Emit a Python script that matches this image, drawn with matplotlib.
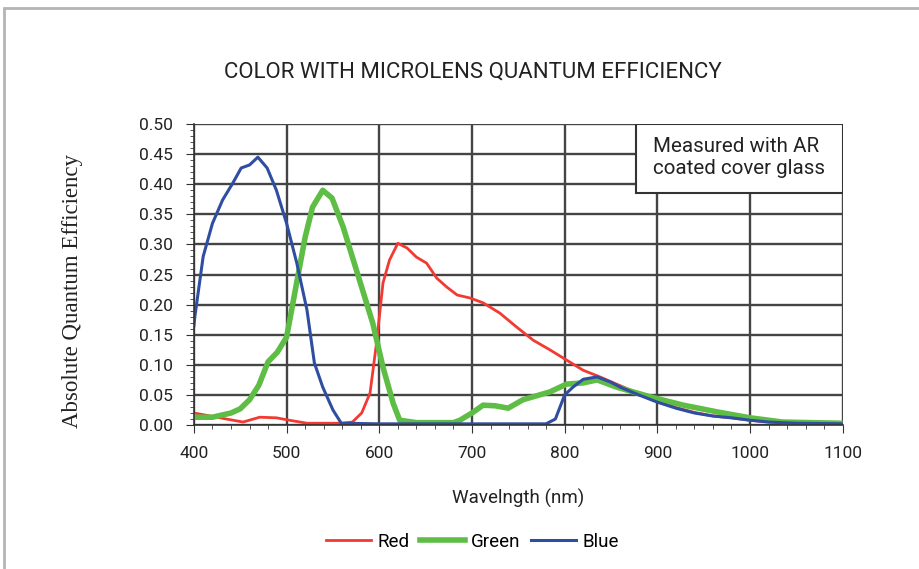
import matplotlib
matplotlib.use('Agg')
from matplotlib import pyplot as plt
from matplotlib.patches import Rectangle
from matplotlib.ticker import MultipleLocator

# values
red_nm = [400, 428, 453, 471, 489, 503, 522, 560, 571, 581, 590, 597, 604,
          611, 620, 630, 640, 651, 662, 673, 684, 698, 712, 730, 748, 766,
          784, 802, 820, 838, 856, 880, 900, 920, 940, 960, 980, 1000, 1020,
          1050, 1100]
red_qe = [0.020, 0.012, 0.005, 0.013, 0.012, 0.008, 0.003, 0.003, 0.005,
          0.020, 0.053, 0.136, 0.236, 0.274, 0.302, 0.294, 0.279, 0.269,
          0.244, 0.229, 0.216, 0.211, 0.203, 0.186, 0.163, 0.141, 0.125,
          0.108, 0.091, 0.080, 0.068, 0.052, 0.040, 0.029, 0.021, 0.015,
          0.012, 0.008, 0.005, 0.003, 0.002]

green_nm = [400, 420, 440, 450, 460, 470, 480, 490, 500, 509, 520, 528, 539,
            549, 561, 571, 582, 593, 604, 615, 622, 640, 680, 687, 700, 712,
            725, 739, 755, 784, 802, 820, 835, 856, 892, 928, 964, 1000, 1035,
            1097]
green_qe = [0.013, 0.013, 0.020, 0.027, 0.042, 0.066, 0.105, 0.121, 0.146,
            0.221, 0.312, 0.362, 0.390, 0.377, 0.329, 0.279, 0.224, 0.169,
            0.096, 0.036, 0.008, 0.004, 0.004, 0.008, 0.020, 0.033, 0.032,
            0.028, 0.042, 0.055, 0.068, 0.070, 0.075, 0.063, 0.047, 0.033,
            0.022, 0.012, 0.005, 0.003]

blue_nm = [400, 401, 410, 420, 431, 442, 451, 460, 469, 479, 489, 500, 511,
           522, 530, 539, 550, 559, 600, 700, 780, 790, 800, 809, 820, 835,
           850, 860, 880, 900, 920, 940, 960, 980, 1000, 1020, 1050, 1100]
blue_qe = [0.165, 0.180, 0.280, 0.335, 0.374, 0.402, 0.427, 0.432, 0.445,
           0.427, 0.390, 0.335, 0.269, 0.191, 0.103, 0.063, 0.025, 0.003,
           0.002, 0.002, 0.002, 0.010, 0.050, 0.063, 0.076, 0.080, 0.071,
           0.063, 0.050, 0.038, 0.028, 0.020, 0.015, 0.012, 0.008, 0.005,
           0.003, 0.002]

x_ticks = [400, 500, 600, 700, 800, 900, 1000, 1100]
y_ticks = [0.00, 0.05, 0.10, 0.15, 0.20, 0.25, 0.30, 0.35, 0.40, 0.45, 0.50]

plt.rcParams['font.family'] = ['Roboto', 'DejaVu Sans']

fig = plt.figure(figsize=(9.19, 5.69), dpi=100)
fig.patches.append(Rectangle((0.004, -0.01), 1.02, 0.996, transform=fig.transFigure,
                             fill=False, edgecolor='#b4b4b4', linewidth=2))
ax = fig.add_axes([0.211, 0.253, 0.706, 0.529])

ax.plot(red_nm, red_qe, color='#f23a32', linewidth=2, label='Red')
ax.plot(green_nm, green_qe, color='#5dbd45', linewidth=4, label='Green')
ax.plot(blue_nm, blue_qe, color='#2f4ea2', linewidth=2.2, label='Blue')

ax.set_xlim(400, 1100)
ax.set_ylim(0, 0.5)
ax.set_xticks(x_ticks)
ax.set_yticks(y_ticks)
ax.set_yticklabels(['%.2f' % v for v in y_ticks])
ax.xaxis.set_minor_locator(MultipleLocator(20))
ax.yaxis.set_minor_locator(MultipleLocator(0.01))
ax.grid(True, which='major', color='#444444', linewidth=1.7)
ax.set_axisbelow(True)
for side in ['top', 'right']:
    ax.spines[side].set_visible(False)
for side in ['left', 'bottom']:
    ax.spines[side].set_color('#333333')
    ax.spines[side].set_linewidth(1.2)
ax.tick_params(which='major', length=6, color='#333333', labelsize=12.5,
               labelcolor='#222222', pad=9)
ax.tick_params(which='minor', length=3, color='#333333')

ax.set_xlabel('Wavelngth (nm)', fontsize=13.5, color='#222222', labelpad=20)
ax.set_ylabel('Absolute Quantum Efficiency', fontsize=16.5, color='#222222',
              family='Liberation Serif')
ax.yaxis.set_label_coords(-0.171, 0.445)
fig.text(0.515, 0.873, 'COLOR WITH MICROLENS QUANTUM EFFICIENCY',
         ha='center', va='center', fontsize=16, color='#222222')

# note box in the upper right corner of the plot
ax.add_patch(Rectangle((877, 0.385), 223, 0.115, facecolor='white',
                       edgecolor='#333333', linewidth=1.5, zorder=3))
ax.text(895, 0.444, 'Measured with AR\ncoated cover glass', ha='left',
        va='center', fontsize=14.8, color='#222222', linespacing=1.2,
        zorder=4)

fig.legend(loc='center', bbox_to_anchor=(0.514, 0.048), ncol=3, frameon=False,
           fontsize=13.5, handlelength=2.4, columnspacing=0.55,
           handletextpad=0.35)

fig.savefig('out.png', dpi=100)
